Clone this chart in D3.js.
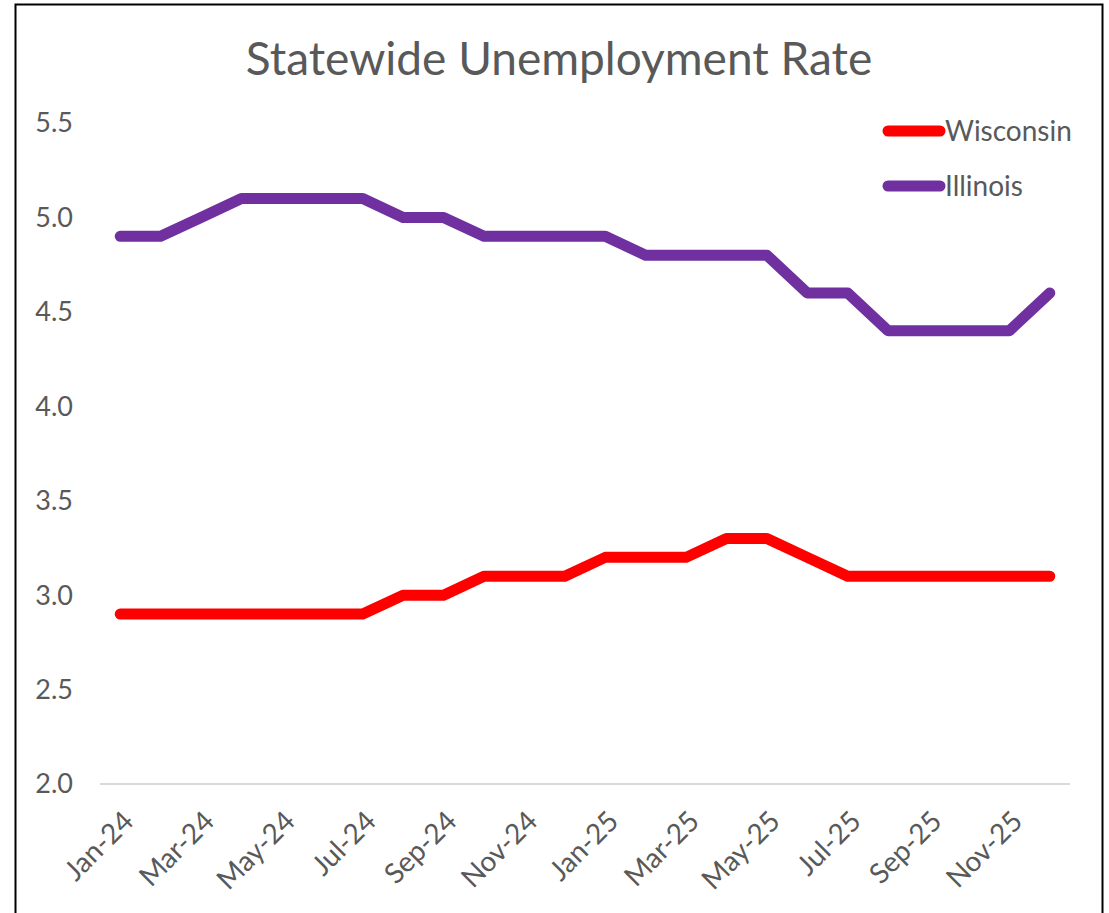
<!DOCTYPE html>
<html>
<head>
<meta charset="utf-8">
<script src="https://cdn.jsdelivr.net/npm/d3@7"></script>
<style>
  body { margin: 0; background: #fff; }
  text { font-family: Lato, "Open Sans", sans-serif; fill: #595959; }
</style>
</head>
<body>
<svg id="chart" width="1109" height="913"></svg>
<script>
const months = ["Jan-24", "Feb-24", "Mar-24", "Apr-24", "May-24", "Jun-24", "Jul-24", "Aug-24",
  "Sep-24", "Oct-24", "Nov-24", "Dec-24", "Jan-25", "Feb-25", "Mar-25", "Apr-25", "May-25",
  "Jun-25", "Jul-25", "Aug-25", "Sep-25", "Oct-25", "Nov-25", "Dec-25"];
const wisconsin = [2.9, 2.9, 2.9, 2.9, 2.9, 2.9, 2.9, 3.0, 3.0, 3.1, 3.1, 3.1,
  3.2, 3.2, 3.2, 3.3, 3.3, 3.2, 3.1, 3.1, 3.1, 3.1, 3.1, 3.1];
const illinois = [4.9, 4.9, 5.0, 5.1, 5.1, 5.1, 5.1, 5.0, 5.0, 4.9, 4.9, 4.9,
  4.9, 4.8, 4.8, 4.8, 4.8, 4.6, 4.6, 4.4, 4.4, 4.4, 4.4, 4.6];
const yTicks = [2.0, 2.5, 3.0, 3.5, 4.0, 4.5, 5.0, 5.5];

const series = [
  { name: "Wisconsin", values: wisconsin, color: "#FF0000" },
  { name: "Illinois", values: illinois, color: "#7030A0" }
];

const svg = d3.select("#chart");

// chart frame
svg.append("rect")
  .attr("x", 15.5).attr("y", 4.5)
  .attr("width", 1087).attr("height", 920)
  .attr("fill", "none").attr("stroke", "#000").attr("stroke-width", 2);

const x = d3.scalePoint().domain(months).range([100, 1070]).padding(0.5);
const y = d3.scaleLinear().domain([2.0, 5.5]).range([784, 123]);

// title
svg.append("text")
  .attr("x", 559).attr("y", 75)
  .attr("text-anchor", "middle")
  .style("font-size", "46px")
  .text("Statewide Unemployment Rate");

// y labels
svg.append("g").selectAll("text")
  .data(yTicks)
  .join("text")
  .attr("x", 73)
  .attr("y", d => y(d))
  .attr("dy", "0.35em")
  .attr("text-anchor", "end")
  .style("font-size", "27px")
  .text(d => d.toFixed(1));

// baseline
svg.append("line")
  .attr("x1", 100).attr("x2", 1070)
  .attr("y1", y(2.0)).attr("y2", y(2.0))
  .attr("stroke", "#d9d9d9").attr("stroke-width", 2);

// x labels, every other month
svg.append("g").selectAll("text")
  .data(months.filter((m, i) => i % 2 === 0))
  .join("text")
  .attr("transform", d => `translate(${x(d) + 8},${816}) rotate(-45)`)
  .attr("dy", "0.35em")
  .attr("text-anchor", "end")
  .style("font-size", "28px")
  .text(d => d);

// lines
const line = d3.line()
  .x((d, i) => x(months[i]))
  .y(d => y(d));

svg.append("g").selectAll("path")
  .data(series)
  .join("path")
  .attr("d", d => line(d.values))
  .attr("fill", "none")
  .attr("stroke", d => d.color)
  .attr("stroke-width", 11)
  .attr("stroke-linecap", "round")
  .attr("stroke-linejoin", "round");

// legend
const legend = svg.append("g").selectAll("g")
  .data(series)
  .join("g")
  .attr("transform", (d, i) => `translate(883,${131 + i * 55})`);
legend.append("line")
  .attr("x1", 5).attr("x2", 57)
  .attr("stroke", d => d.color)
  .attr("stroke-width", 11)
  .attr("stroke-linecap", "round");
legend.append("text")
  .attr("x", 62)
  .attr("dy", "0.35em")
  .style("font-size", "28px")
  .text(d => d.name);
</script>
</body>
</html>
